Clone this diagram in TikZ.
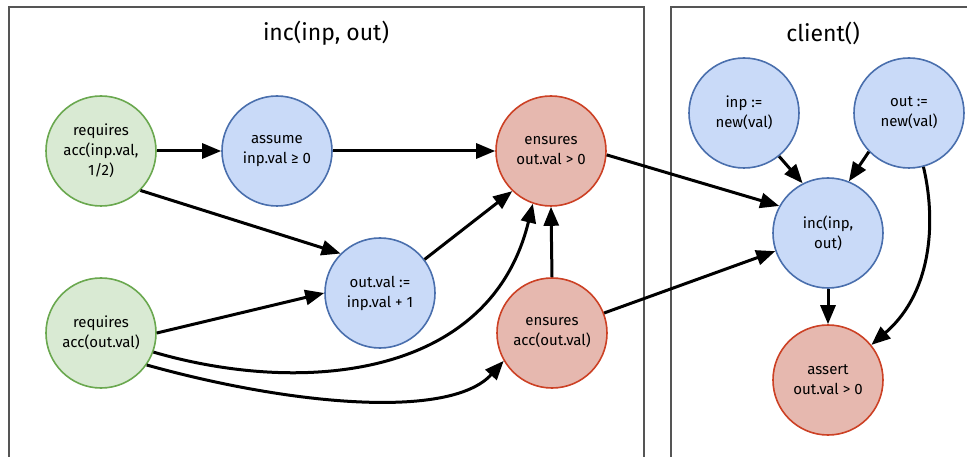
\documentclass[tikz,border=0pt]{standalone}
\usepackage{fontspec}
\setmainfont{Fira Sans}
\usetikzlibrary{arrows.meta}
\definecolor{reqfill}{HTML}{D9EAD3}
\definecolor{reqline}{HTML}{6AA84F}
\definecolor{opfill}{HTML}{C9DAF8}
\definecolor{opline}{HTML}{4A6FAD}
\definecolor{ensfill}{HTML}{E6B8AF}
\definecolor{ensline}{HTML}{CC4125}
\definecolor{frameline}{HTML}{555555}
\tikzset{
  state/.style={circle, minimum size=110pt, inner sep=0pt, line width=1.6pt,
    align=center, font=\fontsize{15}{20}\selectfont},
  reqnode/.style={state, draw=reqline, fill=reqfill},
  opnode/.style={state, draw=opline, fill=opfill},
  ensnode/.style={state, draw=ensline, fill=ensfill},
  frame/.style={draw=frameline, line width=1.3pt},
  title/.style={font=\fontsize{23}{27}\selectfont},
  flow/.style={line width=3pt, -{Triangle[length=19pt,width=15pt]}},
}
\begin{document}
\begin{tikzpicture}[x=1pt, y=-1pt]
\useasboundingbox (0,0) rectangle (967,457);
\clip (0,0) rectangle (967,457);

% procedure frames
\draw[frame] (9,7) rectangle (644,480);
\draw[frame] (671,7) rectangle (1000,480);
\node[title] (inctitle) at (326,33) {inc(inp, out)};
\node[title] (clienttitle) at (823,33) {client()};

% inc(inp, out)
\node[reqnode] (req1) at (101,151) {requires\\acc(inp.val,\\1/2)};
\node[opnode]  (assume) at (277,151) {assume\\inp.val ≥ 0};
\node[ensnode] (ens1) at (551,151) {ensures\\out.val > 0};
\node[opnode]  (upd) at (380,293) {out.val :=\\inp.val + 1};
\node[reqnode] (req2) at (101,333) {requires\\acc(out.val)};
\node[ensnode] (ens2) at (552,333) {ensures\\acc(out.val)};

% client()
\node[opnode]  (inp) at (744,113) {inp :=\\new(val)};
\node[opnode]  (out) at (909,113) {out :=\\new(val)};
\node[opnode]  (call) at (828,233) {inc(inp,\\out)};
\node[ensnode] (assert) at (828,380) {assert\\out.val > 0};

% dependencies inside inc
\draw[flow] (req1.east) -- (assume.west);
\draw[flow] (assume.east) -- (ens1.west);
\draw[flow] (req1.-45) -- (upd.135);
\draw[flow] (req2.east) -- (upd.west);
\draw[flow] (upd.37) -- (ens1.226);
\draw[flow] (req2.-20) .. controls (300,395) and (490,380) .. (ens1.251);
\draw[flow] (req2.-35) .. controls (290,405) and (450,420) .. (ens2.210);
\draw[flow] (ens2.north) -- (ens1.south);

% contract used at the call site
\draw[flow] (ens1.-4) -- (call.151);
\draw[flow] (ens2.21) -- (call.199);

% client flow
\draw[flow] (inp.-51) -- (call.117);
\draw[flow] (out.-136) -- (call.68);
\draw[flow] (call.south) -- (assert.north);
\draw[flow] (out.-75) .. controls (935,215) and (935,290) .. (assert.39);
\end{tikzpicture}
\end{document}
